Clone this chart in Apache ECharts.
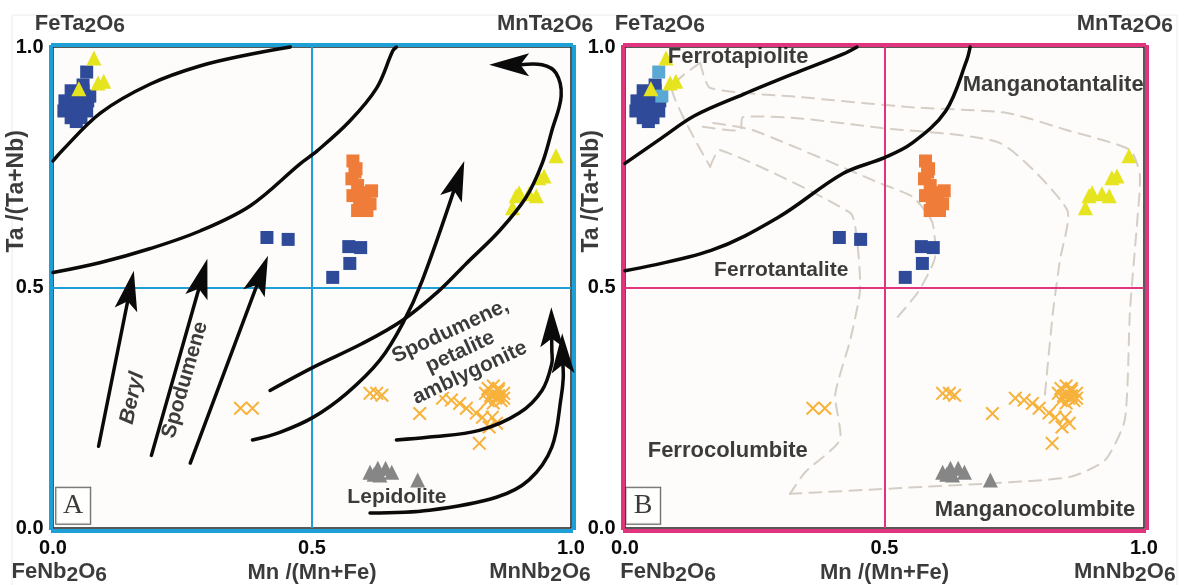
<!DOCTYPE html>
<html><head><meta charset="utf-8">
<script src="https://cdn.jsdelivr.net/npm/echarts@6/dist/echarts.min.js"></script>
<style>html,body{margin:0;padding:0;background:#fff}#c{width:1187px;height:585px}</style>
</head><body><div id="c"></div>
<script>
// ---------------- DATA ----------------
const tickValues = [0, 0.5, 1];
const darkBlueSquares = [[0.035,0.909],[0.058,0.909],[0.023,0.888],[0.046,0.888],[0.067,0.888],[0.021,0.867],[0.044,0.867],[0.065,0.867],[0.035,0.853],[0.054,0.853],[0.058,0.921],[0.030,0.875],[0.055,0.875],[0.045,0.845],
  [0.413,0.604],[0.454,0.600],[0.571,0.585],[0.594,0.583],[0.573,0.550],[0.540,0.521]];
const tapioliteSquares = [[0.065,0.948],[0.071,0.898]];
const orangeSquares = [[0.579,0.763],[0.585,0.747],[0.577,0.726],[0.588,0.712],[0.579,0.691],[0.602,0.697],[0.615,0.701],[0.592,0.674],[0.612,0.674],[0.588,0.660],[0.606,0.660],[0.583,0.740],[0.598,0.685]];
const yellowTriangles = [[0.079,0.977],[0.087,0.925],[0.098,0.929],[0.050,0.913],[0.971,0.774],[0.948,0.732],[0.938,0.728],[0.900,0.697],[0.894,0.691],[0.933,0.691],[0.919,0.695],[0.887,0.666]];
const grayTriangles = [[0.612,0.116],[0.627,0.124],[0.642,0.124],[0.654,0.116],[0.631,0.110],[0.620,0.112],[0.704,0.100]];
const orangeCrosses = [[0.362,0.249],[0.385,0.249],[0.612,0.280],[0.625,0.280],[0.635,0.276],[0.708,0.238],[0.752,0.270],[0.769,0.266],[0.785,0.259],[0.798,0.249],[0.817,0.239],[0.829,0.230],[0.848,0.230],[0.856,0.218],[0.842,0.210],[0.823,0.176],
  [0.840,0.290],[0.850,0.295],[0.860,0.285],[0.870,0.280],[0.845,0.275],[0.855,0.270],[0.865,0.265],[0.850,0.260],[0.840,0.265],[0.860,0.290],[0.870,0.270],[0.835,0.280],[0.850,0.280],[0.860,0.275]];

const boundaryUpperA = [[0,0.763],[0.017,0.784],[0.092,0.863],[0.188,0.923],[0.285,0.961],[0.381,0.985],[0.458,1.0]];
const boundaryLowerA = [[0,0.531],[0.092,0.552],[0.188,0.581],[0.285,0.618],[0.381,0.670],[0.477,0.757],[0.51,0.784],[0.573,0.846],[0.625,0.915],[0.656,0.992],[0.663,1.0]];
const boundaryUpperB = [[0,0.758],[0.071,0.811],[0.134,0.857],[0.229,0.902],[0.324,0.944],[0.42,0.985],[0.447,1.0]];
const boundaryLowerB = [[0,0.535],[0.166,0.577],[0.294,0.645],[0.42,0.737],[0.5,0.77],[0.553,0.80],[0.618,0.867],[0.658,0.971],[0.665,1.0]];

const trendArrowsA = [
  [[0.088,0.170],[0.156,0.535]],
  [[0.190,0.151],[0.298,0.560]],
  [[0.265,0.135],[0.415,0.566]],
  [[0.385,0.183],[0.438,0.199],[0.502,0.230],[0.567,0.280],[0.631,0.349],[0.675,0.425],[0.713,0.515],[0.794,0.763]],
  [[0.419,0.286],[0.502,0.334],[0.598,0.384],[0.675,0.432],[0.746,0.494],[0.798,0.550],[0.862,0.618],[0.913,0.687],[0.944,0.757],[0.963,0.826],[0.981,0.898],[0.971,0.946],[0.944,0.963],[0.842,0.963]],
  [[0.663,0.183],[0.727,0.189],[0.823,0.203],[0.900,0.239],[0.944,0.286],[0.963,0.342],[0.963,0.369],[0.962,0.459]],
  [[0.612,0.031],[0.727,0.037],[0.856,0.064],[0.919,0.100],[0.963,0.168],[0.981,0.272],[0.985,0.311],[0.983,0.405]]
];

const dashedTrendsB = [
  [[0.145,0.967],[0.164,0.915],[0.337,0.896],[0.549,0.875],[0.736,0.863],[0.852,0.827],[0.973,0.786],[0.992,0.734],[0.986,0.626],[0.973,0.453],[0.963,0.225],[0.925,0.141],[0.857,0.106],[0.723,0.094],[0.530,0.083],[0.318,0.071]],
  [[0.150,0.834],[0.222,0.827],[0.227,0.854],[0.331,0.852],[0.491,0.832],[0.723,0.800],[0.852,0.661],[0.838,0.557],[0.825,0.453],[0.809,0.277]],
  [[0.170,0.842],[0.247,0.827],[0.491,0.717],[0.555,0.688],[0.592,0.636],[0.597,0.561],[0.565,0.491],[0.520,0.432]],
  [[0.164,0.751],[0.183,0.786],[0.434,0.655],[0.447,0.599],[0.453,0.495],[0.434,0.391],[0.405,0.277],[0.414,0.183],[0.347,0.116],[0.318,0.071]],
  [[0.145,0.967],[0.090,0.914],[0.164,0.751]]
];

// ---------------- STYLE ----------------
const FONT = '"Liberation Sans", Arial, sans-serif';
const BLUE = '#1e9fd6', PINK = '#e0357d', INK = '#0a0a0a';
const chart = echarts.init(document.getElementById('c'), null, {renderer: 'canvas'});

const grids = [
  {left: 53, top: 47, width: 518, height: 481},
  {left: 625, top: 47, width: 519, height: 481}
].map(g => Object.assign(g, {show: true, backgroundColor: '#fdfcfa', borderColor: '#222', borderWidth: 1.5}));

const xAxes = [], yAxes = [];
[BLUE, PINK].forEach((col, g) => {
  const line = {show: true, onZero: false, lineStyle: {color: col, width: 4, cap: 'square'}};
  const lab = {fontSize: 20, fontWeight: 'bold', fontFamily: FONT, color: INK, formatter: v => tickValues.includes(v) ? v.toFixed(1) : ''};
  xAxes.push({gridIndex: g, type: 'value', min: 0, max: 1, interval: 0.5, position: 'bottom', offset: 2.5, axisLine: line, axisTick: {show: false}, splitLine: {show: false}, axisLabel: Object.assign({margin: 8}, lab)});
  xAxes.push({gridIndex: g, type: 'value', min: 0, max: 1, interval: 0.5, position: 'top', offset: 2.5, axisLine: line, axisTick: {show: false}, splitLine: {show: false}, axisLabel: {show: false}});
  yAxes.push({gridIndex: g, type: 'value', min: 0, max: 1, interval: 0.5, position: 'left', offset: 2.5, axisLine: line, axisTick: {show: false}, splitLine: {show: false}, axisLabel: Object.assign({margin: 7}, lab)});
  yAxes.push({gridIndex: g, type: 'value', min: 0, max: 1, interval: 0.5, position: 'right', offset: 2.5, axisLine: line, axisTick: {show: false}, splitLine: {show: false}, axisLabel: {show: false}});
});

const series = [];
const AX = [{xAxisIndex: 0, yAxisIndex: 0}, {xAxisIndex: 2, yAxisIndex: 2}];

// mid lines
[BLUE, PINK].forEach((col, g) => {
  series.push(Object.assign({type: 'scatter', data: [], z: 1, silent: true,
    markLine: {silent: true, symbol: ['none', 'none'], animation: false, label: {show: false},
      lineStyle: {color: col, width: 2, type: 'solid'}, data: [{xAxis: 0.5}, {yAxis: 0.5}]}}, AX[g]));
});

function curveSeries(curves, g, style) {
  return Object.assign({
    type: 'custom', silent: true, z: style.z || 5,
    data: curves.map((c, i) => [0, 0, i]),
    renderItem: (params, api) => {
      const c = curves[api.value(2)];
      let pts = c.map(p => api.coord(p));
      const children = [];
      if (style.arrow) {
        const n = pts.length, tip = pts[n - 1], prev = pts[n - 2];
        const dx = tip[0] - prev[0], dy = tip[1] - prev[1], len = Math.hypot(dx, dy);
        const ux = dx / len, uy = dy / len, px = -uy, py = ux;
        const L = 40, W = 23;
        const bx = tip[0] - ux * L, by = tip[1] - uy * L;
        const notch = [tip[0] - ux * L * 0.78, tip[1] - uy * L * 0.78];
        pts = pts.slice(0, n - 1).concat([notch]);
        children.push({type: 'polygon', shape: {points: [tip, [bx + px * W / 2, by + py * W / 2], notch, [bx - px * W / 2, by - py * W / 2]]},
          style: {fill: INK}, z2: 2});
      }
      children.unshift({type: 'polyline', shape: {points: pts, smooth: style.smooth == null ? 0.35 : style.smooth},
        style: {stroke: style.color, lineWidth: style.width, fill: null, lineDash: style.dash || null, lineCap: 'round'}});
      return {type: 'group', children};
    }
  }, AX[g]);
}

// dashed trends (panel B, under points)
series.push(curveSeries(dashedTrendsB, 1, {color: '#d6cec6', width: 2, dash: [12, 8], z: 2, smooth: 0.2}));

// scatter points
const CROSS = 'path://M1,0 L5,4 L9,0 L10,1 L6,5 L10,9 L9,10 L5,6 L1,10 L0,9 L4,5 L0,1 Z';
[0, 1].forEach(g => {
  const sets = [
    {d: orangeCrosses, sym: CROSS, size: 14, col: '#f7b23b'},
    {d: grayTriangles, sym: 'triangle', size: 15, col: '#868686'},
    {d: orangeSquares, sym: 'rect', size: 13, col: '#f07c3a'},
    {d: darkBlueSquares, sym: 'rect', size: 13, col: '#2f4a98'},
    {d: tapioliteSquares, sym: 'rect', size: 13, col: g === 0 ? '#2f4a98' : '#5aa9d4'},
    {d: yellowTriangles, sym: 'triangle', size: 15, col: '#e6e41e'}
  ];
  sets.forEach((s, k) => series.push(Object.assign({type: 'scatter', silent: true, z: 3 + k * 0.01, data: s.d,
    symbol: s.sym, symbolSize: s.size, itemStyle: {color: s.col, opacity: 1}}, AX[g])));
});

// black curves
series.push(curveSeries([boundaryUpperA, boundaryLowerA], 0, {color: INK, width: 3.5, z: 6}));
series.push(curveSeries([boundaryUpperB, boundaryLowerB], 1, {color: INK, width: 3.5, z: 6}));
series.push(curveSeries(trendArrowsA, 0, {color: INK, width: 3.5, arrow: true, z: 6}));

// text labels
const txt = {fontSize: 22, fontWeight: 'bold', fontFamily: FONT, color: INK};
const rich = {
  n: {fontSize: 22, fontWeight: 'bold', fontFamily: FONT, color: INK, lineHeight: 24, verticalAlign: 'top'},
  s: {fontSize: 21, fontWeight: 'bold', fontFamily: FONT, color: INK, lineHeight: 24, padding: [7, 0, 0, 0], verticalAlign: 'bottom'}
};
function formula(a) { return '{n|' + a + '}{s|2}{n|O}{s|6}'; }
function lab(pos, text, extra) {
  return {value: pos, label: Object.assign({show: true, position: 'inside', formatter: text, align: 'center', verticalAlign: 'middle'}, txt, extra || {})};
}
const boxStyle = {fontFamily: '"Liberation Serif", "DejaVu Serif", serif', fontWeight: 'normal', fontSize: 28, backgroundColor: '#fff', borderColor: '#333', borderWidth: 1, width: 30, height: 34, lineHeight: 34, padding: [1, 2, 1, 2]};
const labelsA = [
  lab([0.052, 1.046], formula('FeTa'), {rich}),
  lab([0.950, 1.046], formula('MnTa'), {rich}),
  lab([0.012, -0.094], formula('FeNb'), {rich}),
  lab([0.940, -0.094], formula('MnNb'), {rich}),
  lab([0.5, -0.094], 'Mn /(Mn+Fe)'),
  lab([-0.07, 0.70], 'Ta /(Ta+Nb)', {rotate: 90, fontSize: 23}),
  lab([0.153, 0.270], 'Beryl', {rotate: 78, fontStyle: 'italic', fontSize: 21}),
  lab([0.255, 0.308], 'Spodumene', {rotate: 74, fontSize: 21}),
  lab([0.786, 0.366], 'Spodumene,\npetalite\namblygonite', {rotate: 25, fontSize: 21, lineHeight: 23, textBorderColor: '#fff', textBorderWidth: 4}),
  lab([0.664, 0.064], 'Lepidolite', {fontSize: 21}),
  lab([0.039, 0.046], 'A', boxStyle)
];
const labelsB = [
  lab([0.067, 1.046], formula('FeTa'), {rich}),
  lab([0.963, 1.046], formula('MnTa'), {rich}),
  lab([0.083, -0.094], formula('FeNb'), {rich}),
  lab([0.963, -0.094], formula('MnNb'), {rich}),
  lab([0.5, -0.094], 'Mn /(Mn+Fe)'),
  lab([-0.064, 0.70], 'Ta /(Ta+Nb)', {rotate: 90, fontSize: 23}),
  lab([0.218, 0.979], 'Ferrotapiolite'),
  lab([0.825, 0.921], 'Manganotantalite'),
  lab([0.301, 0.536], 'Ferrotantalite', {fontSize: 21}),
  lab([0.198, 0.160], 'Ferrocolumbite'),
  lab([0.790, 0.037], 'Manganocolumbite'),
  lab([0.035, 0.046], 'B', boxStyle)
];
[labelsA, labelsB].forEach((d, g) => series.push(Object.assign({type: 'scatter', silent: true, clip: false, z: 10, symbolSize: 0, data: d}, AX[g])));

chart.setOption({
  animation: false,
  graphic: [{type: 'rect', silent: true, z: -1, shape: {x: 12, y: 15, width: 1165, height: 580}, style: {fill: null, stroke: '#ececec', lineWidth: 1}}],
  grid: grids, xAxis: xAxes, yAxis: yAxes, series
});
</script></body></html>
